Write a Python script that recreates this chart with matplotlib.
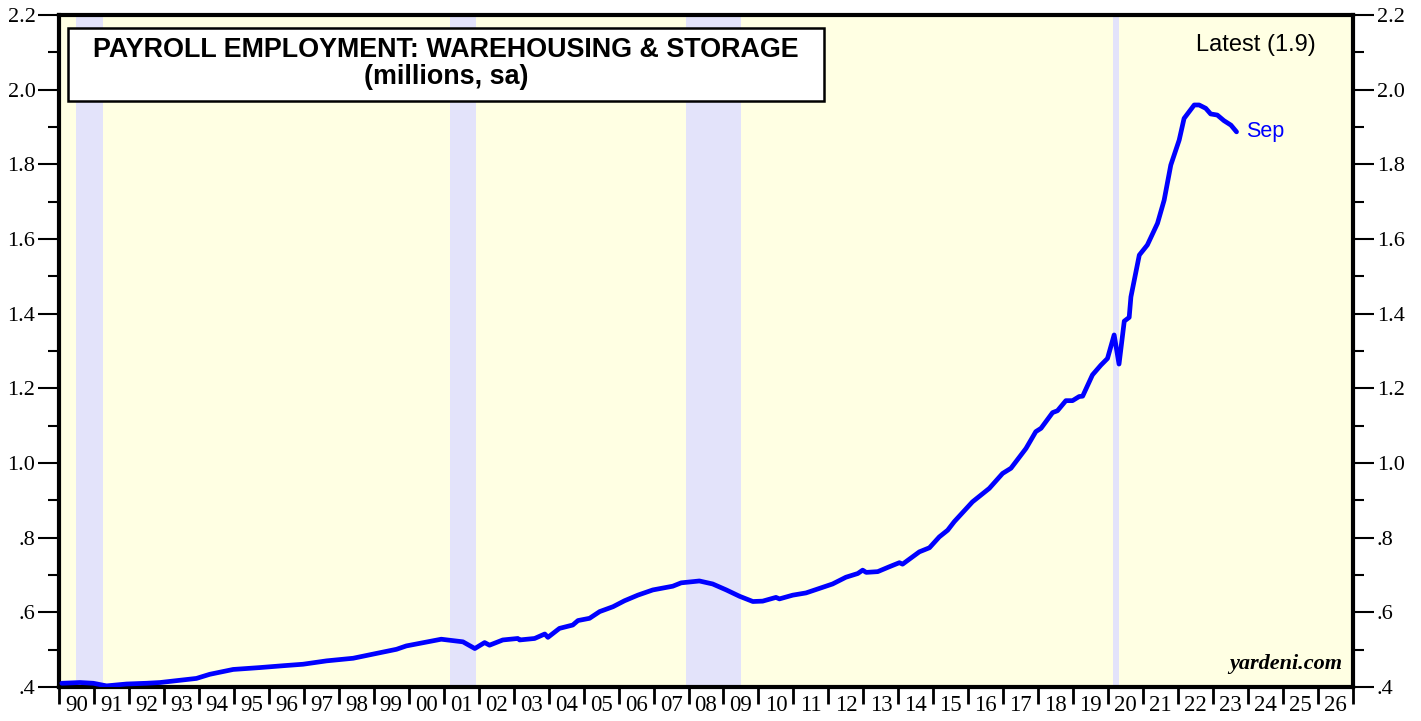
import matplotlib.pyplot as plt
import matplotlib.patches as mpatches
from matplotlib.ticker import MultipleLocator, FixedLocator, FixedFormatter

# payroll employment, warehousing & storage (millions, sa)
years = [1990.08, 1990.6, 1990.98, 1991.36, 1991.93, 1992.5, 1992.89, 1993.36, 1993.93,
         1994.31, 1994.98, 1995.74, 1996.41, 1996.98, 1997.65, 1998.41, 1999.08, 1999.65,
         1999.93, 2000.93, 2001.55, 2001.89, 2002.17, 2002.31, 2002.69, 2003.12, 2003.17,
         2003.6, 2003.89, 2003.98, 2004.31, 2004.69, 2004.84, 2005.17, 2005.46, 2005.84,
         2006.17, 2006.55, 2006.98, 2007.55, 2007.79, 2008.31, 2008.69, 2009.08, 2009.46,
         2009.84, 2010.12, 2010.5, 2010.6, 2010.98, 2011.36, 2011.74, 2012.12, 2012.5,
         2012.84, 2012.98, 2013.08, 2013.41, 2013.74, 2014.03, 2014.12, 2014.6, 2014.89,
         2015.17, 2015.41, 2015.6, 2016.12, 2016.6, 2016.98, 2017.22, 2017.65, 2017.93,
         2018.08, 2018.41, 2018.55, 2018.79, 2018.98, 2019.17, 2019.27, 2019.55, 2019.79,
         2019.98, 2020.17, 2020.31, 2020.46, 2020.6, 2020.65, 2020.89, 2021.12, 2021.41,
         2021.6, 2021.79, 2022.03, 2022.17, 2022.46, 2022.6, 2022.79, 2022.93, 2023.12,
         2023.31, 2023.51, 2023.67]
values = [0.410, 0.412, 0.410, 0.403, 0.408, 0.410, 0.412, 0.417, 0.423,
          0.434, 0.447, 0.452, 0.457, 0.461, 0.470, 0.477, 0.490, 0.501,
          0.510, 0.528, 0.521, 0.503, 0.519, 0.512, 0.526, 0.530, 0.526,
          0.530, 0.542, 0.533, 0.557, 0.566, 0.578, 0.584, 0.602, 0.615,
          0.631, 0.646, 0.660, 0.670, 0.679, 0.684, 0.676, 0.660, 0.643,
          0.629, 0.630, 0.640, 0.636, 0.646, 0.652, 0.664, 0.676, 0.694,
          0.704, 0.713, 0.707, 0.709, 0.722, 0.733, 0.729, 0.762, 0.773,
          0.802, 0.820, 0.843, 0.896, 0.932, 0.972, 0.986, 1.039, 1.084,
          1.093, 1.135, 1.140, 1.167, 1.167, 1.178, 1.179, 1.236, 1.262,
          1.280, 1.343, 1.265, 1.380, 1.390, 1.445, 1.557, 1.584, 1.642,
          1.704, 1.798, 1.865, 1.923, 1.959, 1.959, 1.950, 1.935, 1.932,
          1.917, 1.905, 1.887]

recessions = [(1990.5, 1991.25), (2001.17, 2001.92), (2007.92, 2009.5), (2020.14, 2020.32)]

year_labels = ["90", "91", "92", "93", "94", "95", "96", "97", "98", "99", "00", "01", "02",
               "03", "04", "05", "06", "07", "08", "09", "10", "11", "12", "13", "14", "15",
               "16", "17", "18", "19", "20", "21", "22", "23", "24", "25", "26"]
y_ticks = [0.4, 0.6, 0.8, 1.0, 1.2, 1.4, 1.6, 1.8, 2.0, 2.2]
y_labels = [".4", ".6", ".8", "1.0", "1.2", "1.4", "1.6", "1.8", "2.0", "2.2"]

serif = "Liberation Serif"
sans = "Liberation Sans"

fig = plt.figure(figsize=(14.21, 7.21), dpi=100)
ax = fig.add_axes([59 / 1421, 34 / 721, (1353 - 59) / 1421, (687 - 15) / 721])
ax.set_facecolor("#ffffe3")

for start, end in recessions:
    ax.axvspan(start, end, color="#e3e3fa", lw=0, zorder=0)

ax.plot(years, values, color="#0000ff", lw=3.4, solid_joinstyle="round",
        solid_capstyle="round", zorder=3)

ax.set_xlim(1990, 2027)
ax.set_ylim(0.4, 2.2)

# x axis: ticks at year starts, labels centred between them
ax.xaxis.set_major_locator(FixedLocator(list(range(1990, 2028))))
ax.xaxis.set_major_formatter(FixedFormatter([""] * 38))
ax.xaxis.set_minor_locator(FixedLocator([1990.5 + i for i in range(len(year_labels))]))
ax.xaxis.set_minor_formatter(FixedFormatter(year_labels))
ax.tick_params(axis="x", which="major", direction="out", length=12, width=2)
ax.tick_params(axis="x", which="minor", length=0, pad=6, labelsize=16.5)

# y axis both sides
ax.yaxis.set_major_locator(FixedLocator(y_ticks))
ax.yaxis.set_major_formatter(FixedFormatter(y_labels))
ax.yaxis.set_minor_locator(MultipleLocator(0.1))
ax.tick_params(axis="y", which="major", direction="out", length=15, width=1.5,
               labelsize=16, left=True, right=True, labelleft=True, labelright=True, pad=2)
ax.tick_params(axis="y", which="minor", direction="out", length=8, width=1.5,
               left=True, right=True)
for lab in ax.get_xticklabels(minor=True) + ax.get_yticklabels():
    lab.set_fontfamily(serif)

for sp in ax.spines.values():
    sp.set_linewidth(3)

# title box
box = mpatches.Rectangle((9 / 1294, 586 / 672), 756 / 1294, 73 / 672, transform=ax.transAxes,
                         fc="white", ec="black", lw=1.8, zorder=5)
ax.add_patch(box)
ax.text(387 / 1294, 637 / 672, "PAYROLL EMPLOYMENT: WAREHOUSING & STORAGE",
        transform=ax.transAxes, ha="center", va="center", fontsize=19.4,
        fontweight="bold", family=sans, zorder=6)
ax.text(387 / 1294, 610 / 672, "(millions, sa)",
        transform=ax.transAxes, ha="center", va="center", fontsize=19.4,
        fontweight="bold", family=sans, zorder=6)

ax.text(1316 / 1421, 1 - 45 / 721, "Latest (1.9)", transform=fig.transFigure,
        ha="right", va="center", fontsize=17, family=sans)
ax.text(2023.95, 1.887, "Sep", color="#0000ff", ha="left", va="center",
        fontsize=15.5, family=sans)
ax.text(0.992, 0.02, "yardeni.com", transform=ax.transAxes, ha="right", va="bottom",
        fontsize=16, fontweight="bold", fontstyle="italic", family=serif)

fig.savefig("out.png", dpi=100)
